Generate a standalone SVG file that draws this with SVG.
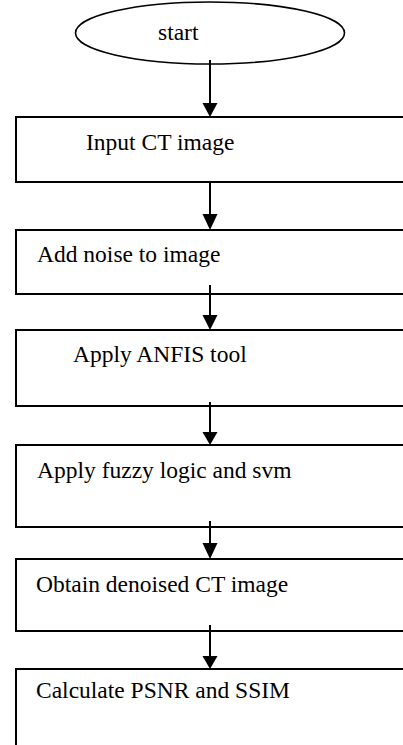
<svg xmlns="http://www.w3.org/2000/svg" width="403" height="745" viewBox="0 0 403 745">
<defs>
<style>
.box{fill:#fff;stroke:#000;stroke-width:2}
.lbl{font-family:"Liberation Serif","Times New Roman",serif;font-size:23.5px;fill:#000}
.conn line{stroke:#000;stroke-width:2}
.conn polygon{fill:#000}
</style>
</defs>
<rect width="403" height="745" fill="#fff"/>
<g id="start">
<ellipse cx="210" cy="33" rx="134.5" ry="31" fill="#fff" stroke="#000" stroke-width="1.6"/>
<text class="lbl" x="158" y="40">start</text>
</g>
<g id="n1">
<rect class="box" x="16" y="117" width="400" height="65"/>
<text class="lbl" x="86" y="150">Input CT image</text>
</g>
<g id="n2">
<rect class="box" x="16" y="230" width="400" height="64"/>
<text class="lbl" x="37" y="262">Add noise to image</text>
</g>
<g id="n3">
<rect class="box" x="16" y="330" width="400" height="76"/>
<text class="lbl" x="73" y="362">Apply ANFIS tool</text>
</g>
<g id="n4">
<rect class="box" x="16" y="445" width="400" height="82"/>
<text class="lbl" x="37" y="478">Apply fuzzy logic and svm</text>
</g>
<g id="n5">
<rect class="box" x="16" y="559" width="400" height="72"/>
<text class="lbl" x="36" y="592">Obtain denoised CT image</text>
</g>
<g id="n6">
<rect class="box" x="16" y="669" width="400" height="100"/>
<text class="lbl" x="36" y="698">Calculate PSNR and SSIM</text>
</g>
<g class="conn" id="connectors">
<line x1="210" y1="60" x2="210" y2="104"/>
<polygon points="202.5,103 217.5,103 210,117"/>
<line x1="210" y1="182" x2="210" y2="215"/>
<polygon points="202.5,214 217.5,214 210,230"/>
<line x1="210" y1="285" x2="210" y2="316"/>
<polygon points="202.5,315 217.5,315 210,330"/>
<line x1="210" y1="402" x2="210" y2="433"/>
<polygon points="202.5,432 217.5,432 210,445"/>
<line x1="210" y1="521" x2="210" y2="544"/>
<polygon points="202.5,543 217.5,543 210,559"/>
<line x1="210" y1="625" x2="210" y2="657"/>
<polygon points="202.5,656 217.5,656 210,669"/>
</g>
</svg>
